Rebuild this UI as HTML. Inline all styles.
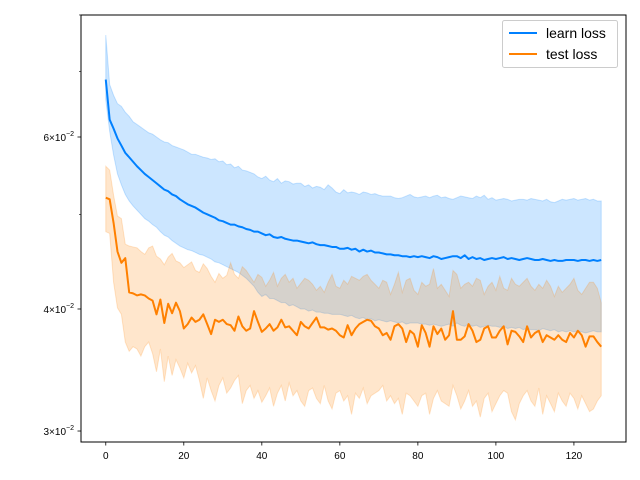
<!DOCTYPE html>
<html><head><meta charset="utf-8"><style>
html,body{margin:0;padding:0;background:#fff;}
svg{display:block;font-family:"Liberation Sans","DejaVu Sans",sans-serif;}
</style></head><body>
<svg id="chart" width="640" height="480" viewBox="0 0 640 480" xmlns="http://www.w3.org/2000/svg">
<rect x="0" y="0" width="640" height="480" fill="#fff"/>
<g id="plot"></g>
<g id="axes"></g>
<g>
<rect x="502.5" y="20.5" width="115" height="47" rx="2" fill="#fff" fill-opacity="0.8" stroke="#ccc"/>
<g><line x1="509" y1="33" x2="537" y2="33" stroke="#0080ff" stroke-width="2"/><text x="546" y="38" font-size="14" fill="#000">learn loss</text></g>
<g><line x1="509" y1="54" x2="537" y2="54" stroke="#ff8000" stroke-width="2"/><text x="546" y="59" font-size="14" fill="#000">test loss</text></g>
</g>
</svg>
<script>
const learnMean=[6.87,6.25,6.12,5.98,5.88,5.78,5.72,5.66,5.60,5.55,5.50,5.46,5.42,5.38,5.34,5.30,5.28,5.24,5.22,5.18,5.15,5.12,5.10,5.08,5.05,5.02,5.00,4.98,4.96,4.93,4.92,4.90,4.88,4.88,4.86,4.85,4.83,4.82,4.80,4.80,4.78,4.76,4.77,4.74,4.73,4.74,4.72,4.71,4.70,4.70,4.69,4.68,4.67,4.68,4.66,4.65,4.65,4.64,4.63,4.63,4.61,4.61,4.62,4.60,4.61,4.58,4.60,4.58,4.59,4.57,4.57,4.56,4.55,4.55,4.54,4.54,4.53,4.53,4.52,4.53,4.52,4.53,4.52,4.51,4.53,4.52,4.50,4.51,4.52,4.53,4.53,4.51,4.54,4.50,4.52,4.50,4.51,4.49,4.50,4.51,4.50,4.51,4.52,4.50,4.51,4.50,4.49,4.50,4.51,4.50,4.49,4.49,4.50,4.49,4.48,4.49,4.48,4.48,4.49,4.49,4.49,4.48,4.49,4.49,4.48,4.49,4.48,4.49];
const learnUpper=[7.63,6.79,6.62,6.49,6.45,6.36,6.30,6.22,6.18,6.14,6.10,6.06,6.04,6.00,5.96,5.93,5.92,5.88,5.86,5.84,5.82,5.79,5.76,5.76,5.74,5.72,5.71,5.69,5.70,5.66,5.67,5.62,5.63,5.58,5.60,5.55,5.54,5.52,5.50,5.46,5.44,5.47,5.42,5.40,5.44,5.38,5.41,5.40,5.37,5.38,5.38,5.34,5.36,5.32,5.34,5.33,5.30,5.36,5.32,5.27,5.25,5.30,5.26,5.27,5.26,5.24,5.27,5.26,5.24,5.25,5.23,5.22,5.22,5.22,5.20,5.19,5.20,5.22,5.24,5.21,5.20,5.21,5.22,5.20,5.22,5.23,5.20,5.21,5.19,5.18,5.20,5.22,5.21,5.20,5.19,5.22,5.20,5.23,5.18,5.20,5.17,5.18,5.19,5.18,5.16,5.17,5.18,5.18,5.17,5.19,5.18,5.17,5.16,5.18,5.15,5.14,5.16,5.18,5.17,5.18,5.19,5.17,5.18,5.19,5.17,5.18,5.16,5.16];
const learnLower=[6.55,6.08,5.75,5.50,5.36,5.24,5.16,5.10,5.05,5.00,4.95,4.92,4.88,4.85,4.80,4.76,4.74,4.70,4.67,4.64,4.62,4.60,4.59,4.57,4.55,4.54,4.52,4.50,4.47,4.46,4.44,4.42,4.40,4.38,4.36,4.33,4.30,4.26,4.22,4.16,4.12,4.14,4.10,4.10,4.08,4.06,4.06,4.03,4.04,4.02,4.00,4.00,3.98,3.99,3.97,3.97,3.96,3.96,3.95,3.95,3.95,3.94,3.93,3.94,3.92,3.91,3.92,3.90,3.91,3.89,3.90,3.89,3.88,3.89,3.88,3.87,3.88,3.86,3.87,3.87,3.87,3.86,3.86,3.85,3.86,3.85,3.84,3.85,3.86,3.84,3.87,3.85,3.84,3.86,3.84,3.85,3.83,3.84,3.85,3.84,3.84,3.83,3.84,3.82,3.83,3.82,3.83,3.81,3.82,3.81,3.81,3.80,3.82,3.81,3.80,3.81,3.79,3.80,3.79,3.80,3.79,3.80,3.79,3.78,3.79,3.80,3.79,3.79];
const testMean=[5.20,5.18,4.90,4.58,4.46,4.51,4.16,4.15,4.13,4.14,4.13,4.10,4.08,3.95,4.09,3.87,4.05,3.96,4.06,3.98,3.82,3.86,3.92,3.88,3.90,3.95,3.86,3.77,3.90,3.88,3.90,3.86,3.85,3.80,3.93,3.84,3.80,3.82,3.98,3.88,3.79,3.82,3.86,3.80,3.83,3.90,3.83,3.84,3.80,3.76,3.88,3.84,3.82,3.87,3.92,3.83,3.83,3.81,3.82,3.80,3.76,3.74,3.85,3.76,3.82,3.86,3.88,3.90,3.89,3.84,3.82,3.76,3.78,3.72,3.84,3.86,3.82,3.70,3.80,3.77,3.66,3.85,3.78,3.66,3.84,3.77,3.82,3.72,3.76,3.98,3.72,3.72,3.75,3.86,3.80,3.70,3.72,3.82,3.84,3.74,3.74,3.80,3.84,3.68,3.80,3.79,3.75,3.70,3.84,3.74,3.78,3.80,3.70,3.76,3.74,3.72,3.76,3.72,3.70,3.78,3.74,3.80,3.76,3.66,3.75,3.75,3.70,3.66];
const testUpper=[5.60,5.55,5.23,4.98,4.95,4.66,4.64,4.63,4.62,4.58,4.55,4.62,4.64,4.53,4.50,4.44,4.52,4.56,4.48,4.46,4.41,4.44,4.47,4.38,4.36,4.45,4.40,4.32,4.26,4.35,4.30,4.33,4.46,4.34,4.30,4.42,4.38,4.32,4.26,4.34,4.31,4.22,4.28,4.36,4.22,4.30,4.34,4.26,4.30,4.20,4.25,4.30,4.28,4.24,4.18,4.22,4.16,4.26,4.34,4.22,4.20,4.28,4.24,4.32,4.30,4.28,4.32,4.34,4.28,4.24,4.20,4.28,4.26,4.14,4.24,4.36,4.16,4.28,4.30,4.18,4.14,4.26,4.22,4.24,4.40,4.20,4.24,4.18,4.12,4.38,4.34,4.20,4.24,4.26,4.22,4.30,4.28,4.14,4.22,4.26,4.18,4.32,4.20,4.18,4.30,4.24,4.22,4.26,4.30,4.22,4.18,4.24,4.20,4.28,4.22,4.12,4.22,4.16,4.20,4.24,4.30,4.18,4.14,4.20,4.26,4.26,4.20,4.06];
const testLower=[4.80,4.78,4.26,4.01,3.95,3.70,3.62,3.66,3.64,3.58,3.66,3.70,3.60,3.45,3.64,3.37,3.58,3.42,3.55,3.48,3.40,3.52,3.44,3.50,3.38,3.24,3.40,3.30,3.22,3.34,3.40,3.28,3.32,3.38,3.42,3.20,3.30,3.34,3.24,3.30,3.21,3.26,3.32,3.18,3.28,3.34,3.22,3.36,3.26,3.30,3.22,3.18,3.30,3.32,3.24,3.20,3.34,3.22,3.16,3.28,3.30,3.22,3.26,3.12,3.28,3.24,3.32,3.20,3.26,3.28,3.30,3.34,3.22,3.26,3.20,3.24,3.12,3.28,3.26,3.22,3.18,3.26,3.28,3.12,3.24,3.30,3.22,3.20,3.18,3.34,3.26,3.16,3.22,3.30,3.18,3.22,3.10,3.24,3.28,3.14,3.20,3.26,3.30,3.28,3.14,3.08,3.20,3.26,3.30,3.22,3.18,3.32,3.12,3.26,3.20,3.14,3.28,3.22,3.18,3.28,3.24,3.16,3.26,3.20,3.14,3.16,3.22,3.26];
const scaleFactor=0.01;
const xTicks=[0,20,40,60,80,100,120];
const yMajorTicks=[0.03,0.04,0.06];
const yMajorLabels=["3","4","6"];
const yMinorTicks=[0.05,0.07,0.08];

const NS="http://www.w3.org/2000/svg";
const L=81,R=626,T=15,B=442;
const n=learnMean.length;
const xMin=-(n-1)*0.05,xMax=(n-1)*1.05;
function X(i){return L+(i-xMin)/(xMax-xMin)*(R-L);}
function Y(v){return 137-976.7*(Math.log10(v)-Math.log10(0.06));}
function mk(tag,attrs,parent){const e=document.createElementNS(NS,tag);for(const k in attrs)e.setAttribute(k,attrs[k]);parent.appendChild(e);return e;}
const plot=document.getElementById('plot');
const axes=document.getElementById('axes');
const clip=mk('clipPath',{id:'clp'},mk('defs',{},plot));
mk('rect',{x:L,y:T,width:R-L,height:B-T},clip);
function band(up,lo,col,name){
  let d='';
  for(let i=0;i<n;i++)d+=(i?'L':'M')+X(i).toFixed(2)+','+Y(up[i]*scaleFactor).toFixed(2);
  for(let i=n-1;i>=0;i--)d+='L'+X(i).toFixed(2)+','+Y(lo[i]*scaleFactor).toFixed(2);
  d+='Z';
  const p=mk('path',{d:d,fill:col,'fill-opacity':0.2,stroke:col,'stroke-opacity':0.2,'stroke-width':1,'clip-path':'url(#clp)'},plot);
  
  
}
function line(arr,col,name){
  let d='';
  for(let i=0;i<n;i++)d+=(i?'L':'M')+X(i).toFixed(2)+','+Y(arr[i]*scaleFactor).toFixed(2);
  const p=mk('path',{d:d,fill:'none',stroke:col,'stroke-width':2,'stroke-linejoin':'round','clip-path':'url(#clp)'},plot);
  
  
}
band(learnUpper,learnLower,'#0080ff','learn-loss-band');
band(testUpper,testLower,'#ff8000','test-loss-band');
line(learnMean,'#0080ff','learn-loss-line');
line(testMean,'#ff8000','test-loss-line');
// frame
const fr=mk('rect',{x:L,y:T,width:R-L,height:B-T,fill:'none',stroke:'#000','stroke-width':1},axes);


xTicks.forEach(t=>{
  const x=X(t);
  const tk=mk('line',{x1:x,y1:B,x2:x,y2:B+3.5,stroke:'#000','stroke-width':0.8},axes);
  
  
  const tx=mk('text',{x:x,y:B+17,'font-size':10,'text-anchor':'middle',fill:'#000'},axes);
  tx.textContent=String(t);
  
  
});
yMajorTicks.forEach((t,i)=>{
  const y=Y(t);
  const tk=mk('line',{x1:L-3.5,y1:y,x2:L,y2:y,stroke:'#000','stroke-width':0.8},axes);
  
  
  const tx=mk('text',{x:L-7,y:y+4,'font-size':10,'text-anchor':'end',fill:'#000'},axes);
  
  
  tx.innerHTML=yMajorLabels[i]+'\u00d710<tspan dy="-5" font-size="7">\u22122</tspan>';
});
yMinorTicks.forEach(t=>{
  const y=Y(t);
  const tk=mk('line',{x1:L-2,y1:y,x2:L,y2:y,stroke:'#000','stroke-width':0.6},axes);
  
  
});
</script>
</body></html>
